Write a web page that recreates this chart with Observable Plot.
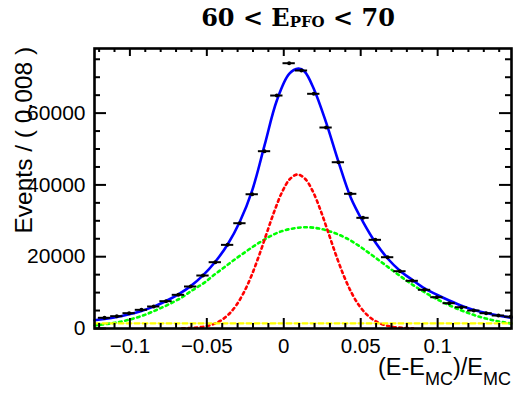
<!DOCTYPE html>
<html><head><meta charset="utf-8">
<script src="https://cdn.jsdelivr.net/npm/d3@7"></script>
<script src="https://cdn.jsdelivr.net/npm/@observablehq/plot@0.6"></script>
<style>body{margin:0;background:#fff} svg{display:block}</style>
</head><body><div id="chart"></div>
<script>
// ---- data ----
const binCenters = [-0.1165,-0.1085,-0.1005,-0.0925,-0.0845,-0.0765,-0.0685,-0.0605,-0.0525,-0.0445,-0.0365,-0.0285,-0.0205,-0.0125,-0.0045,0.0035,0.0115,0.0195,0.0275,0.0355,0.0435,0.0515,0.0595,0.0675,0.0755,0.0835,0.0915,0.0995,0.1075,0.1155,0.1235,0.1315,0.1395,0.1475];
const counts = [2980,3430,4270,5200,6130,7610,9380,11700,14760,18470,23300,29330,37400,49390,64900,73900,71870,65380,55990,46320,37520,30830,24700,19860,15960,13290,10780,8720,7050,5930,5010,4260,3620,3300];
const binHalfWidth = 0.004;

const totalX = [-0.123,-0.1165,-0.1085,-0.1005,-0.0925,-0.0845,-0.0765,-0.0685,-0.0605,-0.0525,-0.0445,-0.0365,-0.0285,-0.0205,-0.0125,-0.0045,0.0035,0.0095,0.0135,0.0195,0.0275,0.0355,0.0435,0.0515,0.0595,0.0675,0.0755,0.0835,0.0915,0.0995,0.1075,0.1155,0.1235,0.1315,0.1395,0.148];
const totalY = [2300,2650,3200,3950,4900,6100,7650,9500,11800,14800,18600,23400,29800,38500,51000,63500,70900,72400,71600,66800,57400,46500,36500,29700,24000,19500,16100,13550,11150,9400,7800,6350,5150,4300,3600,2980];

const wideX = [-0.123,-0.121,-0.116,-0.111,-0.106,-0.101,-0.096,-0.091,-0.086,-0.081,-0.076,-0.071,-0.066,-0.061,-0.056,-0.051,-0.046,-0.041,-0.036,-0.031,-0.026,-0.021,-0.016,-0.011,-0.006,-0.001,0.004,0.009,0.014,0.019,0.024,0.029,0.034,0.039,0.044,0.049,0.054,0.059,0.064,0.069,0.074,0.079,0.084,0.089,0.094,0.099,0.104,0.109,0.114,0.119,0.124,0.129,0.134,0.139,0.144,0.148];
const wideY = [850,950,1200,1500,1900,2400,3000,3700,4550,5500,6450,7550,8700,10200,11550,12950,14700,16300,17900,19500,21000,22500,23900,25200,26300,27150,27700,28050,28200,28100,27750,27200,26450,25500,24350,22980,21480,19910,18320,16720,15130,13580,12090,10750,9480,8290,7190,6190,5280,4470,3700,3050,2500,2030,1650,1400];

const narrowX = [-0.066,-0.061,-0.056,-0.051,-0.046,-0.041,-0.036,-0.031,-0.026,-0.021,-0.016,-0.011,-0.006,-0.001,0.004,0.009,0.014,0.019,0.024,0.029,0.034,0.039,0.044,0.049,0.054,0.059,0.064,0.069,0.074,0.079,0.084];
const narrowY = [53,126,281,592,1173,2191,3856,6390,9990,14700,20390,26650,32820,38090,41640,42900,41640,38090,32820,26650,20390,14700,9990,6390,3856,2191,1173,592,281,126,53];

const bkgX = [-0.123, 0.148];
const bkgY = [1450, 1450];

const xMajorTicks = [-0.1,-0.05,0,0.05,0.1];
const xTickLabels = ["\u22120.1","\u22120.05","0","0.05","0.1"];
const xMinorTicks = [-0.12,-0.11,-0.09,-0.08,-0.07,-0.06,-0.04,-0.03,-0.02,-0.01,0.01,0.02,0.03,0.04,0.06,0.07,0.08,0.09,0.11,0.12,0.13,0.14];
const yMajorTicks = [0,20000,40000,60000];
const yTickLabels = ["0","20000","40000","60000"];
const yMinorTicks = [5000,10000,15000,25000,30000,35000,45000,50000,55000,65000,70000,75000];
const xDomain = [-0.123, 0.148];
const yDomain = [0, 78000];

// ---- layout ----
const W = 513, H = 394, mL = 94, mR = 2, mT = 48, mB = 66;
const pxX = (xDomain[1] - xDomain[0]) / (W - mL - mR);
const pxY = (yDomain[1] - yDomain[0]) / (H - mT - mB);
const zip = (xs, ys) => xs.map((x, i) => ({x, y: ys[i]}));
const pts = binCenters.map((x, i) => ({x, n: counts[i]}));
const sans = "'Liberation Sans', Arial, Helvetica, sans-serif";

const plot = Plot.plot({
  width: W, height: H,
  marginLeft: mL, marginRight: mR, marginTop: mT, marginBottom: mB,
  x: {domain: xDomain, axis: null},
  y: {domain: yDomain, axis: null},
  style: {fontFamily: sans, background: "white", overflow: "visible"},
  marks: [
    Plot.line(zip(totalX, totalY), {x: "x", y: "y", stroke: "#0000ff", strokeWidth: 2.6, curve: "catmull-rom"}),
    Plot.line(zip(wideX, wideY), {x: "x", y: "y", stroke: "#00ff00", strokeWidth: 2.6, strokeDasharray: "2.6,3.6", curve: "catmull-rom"}),
    Plot.line(zip(narrowX, narrowY), {x: "x", y: "y", stroke: "#ff0000", strokeWidth: 2.6, strokeDasharray: "2.6,3.6", curve: "catmull-rom"}),
    Plot.line(zip(bkgX, bkgY), {x: "x", y: "y", stroke: "#ffff00", strokeWidth: 2.2, strokeDasharray: "5,3"}),
    Plot.ruleY(pts, {y: "n", x1: d => d.x - binHalfWidth, x2: d => Math.min(d.x + binHalfWidth, xDomain[1]), stroke: "black", strokeWidth: 2}),
    Plot.dot(pts, {x: "x", y: "n", r: 2, fill: "black"}),
    // inward ticks: bottom / top
    Plot.ruleX(xMajorTicks, {x: d => d, y1: yDomain[0], y2: yDomain[0] + 10 * pxY, stroke: "black", strokeWidth: 2}),
    Plot.ruleX(xMinorTicks, {x: d => d, y1: yDomain[0], y2: yDomain[0] + 5 * pxY, stroke: "black", strokeWidth: 2}),
    Plot.ruleX(xMajorTicks, {x: d => d, y1: yDomain[1] - 8 * pxY, y2: yDomain[1], stroke: "black", strokeWidth: 2}),
    Plot.ruleX(xMinorTicks, {x: d => d, y1: yDomain[1] - 4 * pxY, y2: yDomain[1], stroke: "black", strokeWidth: 2}),
    // inward ticks: left / right
    Plot.ruleY(yMajorTicks, {y: d => d, x1: xDomain[0], x2: xDomain[0] + 12 * pxX, stroke: "black", strokeWidth: 2}),
    Plot.ruleY(yMinorTicks, {y: d => d, x1: xDomain[0], x2: xDomain[0] + 6 * pxX, stroke: "black", strokeWidth: 2}),
    Plot.ruleY(yMajorTicks, {y: d => d, x1: xDomain[1] - 12 * pxX, x2: xDomain[1], stroke: "black", strokeWidth: 2}),
    Plot.ruleY(yMinorTicks, {y: d => d, x1: xDomain[1] - 6 * pxX, x2: xDomain[1], stroke: "black", strokeWidth: 2}),
    Plot.frame({stroke: "black", strokeWidth: 2.6}),
    // tick labels
    Plot.text(xMajorTicks, {x: d => d, y: yDomain[0], text: (d, i) => xTickLabels[i], dy: 18, fontSize: 20.5, fill: "black", textAnchor: "middle"}),
    Plot.text(yMajorTicks, {x: xDomain[0], y: d => d, text: (d, i) => yTickLabels[i], dx: -9, fontSize: 21, fill: "black", textAnchor: "end"})
  ]
});

const svg = d3.select(plot);
// title
const t = svg.append("text")
  .attr("x", 298).attr("y", 26).attr("text-anchor", "middle")
  .attr("font-family", "'DejaVu Serif', serif").attr("font-weight", "bold")
  .attr("font-size", 24).attr("fill", "black");
t.append("tspan").text("60 < E");
t.append("tspan").attr("font-size", 15).attr("dy", 1).text("PFO");
t.append("tspan").attr("dy", -1).text(" < 70");

// x-axis title
const xt = svg.append("text")
  .attr("x", 511).attr("y", 375).attr("text-anchor", "end")
  .attr("font-family", sans).attr("font-size", 23.5).attr("fill", "black");
xt.append("tspan").text("(E-E");
xt.append("tspan").attr("font-size", 18).attr("dy", 10).text("MC");
xt.append("tspan").attr("dy", -10).text(")/E");
xt.append("tspan").attr("font-size", 18).attr("dy", 10).text("MC");

// y-axis title
svg.append("text")
  .attr("transform", "translate(31.5,233.5) rotate(-90)")
  .attr("text-anchor", "start")
  .attr("font-family", sans).attr("font-size", 24.5).attr("fill", "black")
  .text("Events / ( 0.008 )");

document.getElementById("chart").appendChild(plot);
</script>
</body></html>
